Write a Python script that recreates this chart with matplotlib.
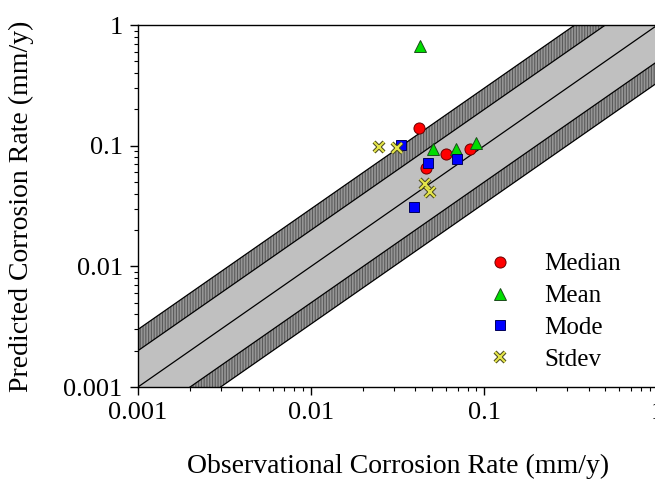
import numpy as np
import matplotlib
matplotlib.use("Agg")
import matplotlib.pyplot as plt
from matplotlib.ticker import FixedLocator, LogLocator, NullFormatter

plt.rcParams['font.family'] = ['Liberation Serif', 'DejaVu Serif']
plt.rcParams['hatch.linewidth'] = 0.8

# Observed vs predicted corrosion rates (mm/y)
median_obs = [0.0417, 0.0597, 0.083, 0.046]
median_pred = [0.140, 0.086, 0.094, 0.065]
mean_obs = [0.0427, 0.0503, 0.0686, 0.0895]
mean_pred = [0.675, 0.094, 0.094, 0.106]
mode_obs = [0.0331, 0.047, 0.0695, 0.039]
mode_pred = [0.101, 0.072, 0.078, 0.031]
stdev_obs = [0.0248, 0.0313, 0.0452, 0.0483]
stdev_pred = [0.098, 0.096, 0.048, 0.041]

tick_vals = [0.001, 0.01, 0.1, 1]
tick_labels = ['0.001', '0.01', '0.1', '1']

W, H = 655, 487
fig = plt.figure(figsize=(W / 100, H / 100), dpi=100)
ax = fig.add_axes([138 / W, 100 / H, 519.5 / W, 362 / H])
ax.set_xscale('log')
ax.set_yscale('log')

# agreement bands: factor-of-2 (light) and factor 2-3 (hatched)
xs = np.logspace(-4, 1, 200)
ax.fill_between(xs, xs / 2, xs * 2, facecolor='#c0c0c0', edgecolor='none', zorder=1)
for lo, hi in [(2, 3), (1 / 3, 1 / 2)]:
    ax.fill_between(xs, xs * lo, xs * hi, facecolor='#969696', edgecolor='#5a5a5a',
                    hatch='||||||', linewidth=0, zorder=1)
for f in [1, 2, 3, 1 / 2, 1 / 3]:
    ax.plot(xs, xs * f, color='black', lw=0.9, zorder=2)

ms = 8
ax.plot(median_obs, median_pred, 'o', ms=ms, mfc='#ff0000', mec='#6b0000', mew=0.7,
        ls='none', zorder=4, label='Median')
ax.plot(mean_obs, mean_pred, '^', ms=ms, mfc='#00dd00', mec='#1a4d1a', mew=0.7,
        ls='none', zorder=4, label='Mean')
ax.plot(mode_obs, mode_pred, 's', ms=ms - 0.5, mfc='#0000ff', mec='#00005a', mew=0.7,
        ls='none', zorder=4, label='Mode')
sd_back, = ax.plot(stdev_obs, stdev_pred, 'x', ms=7.5, mec='#4a4a20', mew=3.0,
                   ls='none', zorder=4)
sd_front, = ax.plot(stdev_obs, stdev_pred, 'x', ms=7.5, mec='#e6e64a', mew=1.5,
                    ls='none', zorder=5)

handles, labels = ax.get_legend_handles_labels()
handles.append((sd_back, sd_front))
labels.append('Stdev')
leg = ax.legend(handles, labels, loc='upper left',
                bbox_to_anchor=(487 / W, 1 - 253 / H), bbox_transform=fig.transFigure,
                frameon=False, fontsize=18, handlelength=1.0, handletextpad=1.3,
                labelspacing=0.37, borderpad=0, borderaxespad=0)

ax.set_xlim(0.001, 1)
ax.set_ylim(0.001, 1)

ax.xaxis.set_major_locator(FixedLocator(tick_vals))
ax.yaxis.set_major_locator(FixedLocator(tick_vals))
ax.set_xticklabels(tick_labels)
ax.set_yticklabels(tick_labels)
ax.xaxis.set_minor_locator(LogLocator(base=10, subs=np.arange(2, 10)))
ax.yaxis.set_minor_locator(LogLocator(base=10, subs=np.arange(2, 10)))
ax.xaxis.set_minor_formatter(NullFormatter())
ax.yaxis.set_minor_formatter(NullFormatter())
ax.tick_params(which='major', direction='out', length=6, width=1, labelsize=19,
               top=False, right=False, pad=5)
ax.tick_params(which='minor', direction='out', length=3, width=0.8,
               top=False, right=False)
for s in ax.spines.values():
    s.set_linewidth(1.0)

ax.set_xlabel('Observational Corrosion Rate (mm/y)', fontsize=20, labelpad=21)
ax.set_ylabel('Predicted Corrosion Rate (mm/y)', fontsize=20, labelpad=21)

fig.savefig('out.png', dpi=100)
